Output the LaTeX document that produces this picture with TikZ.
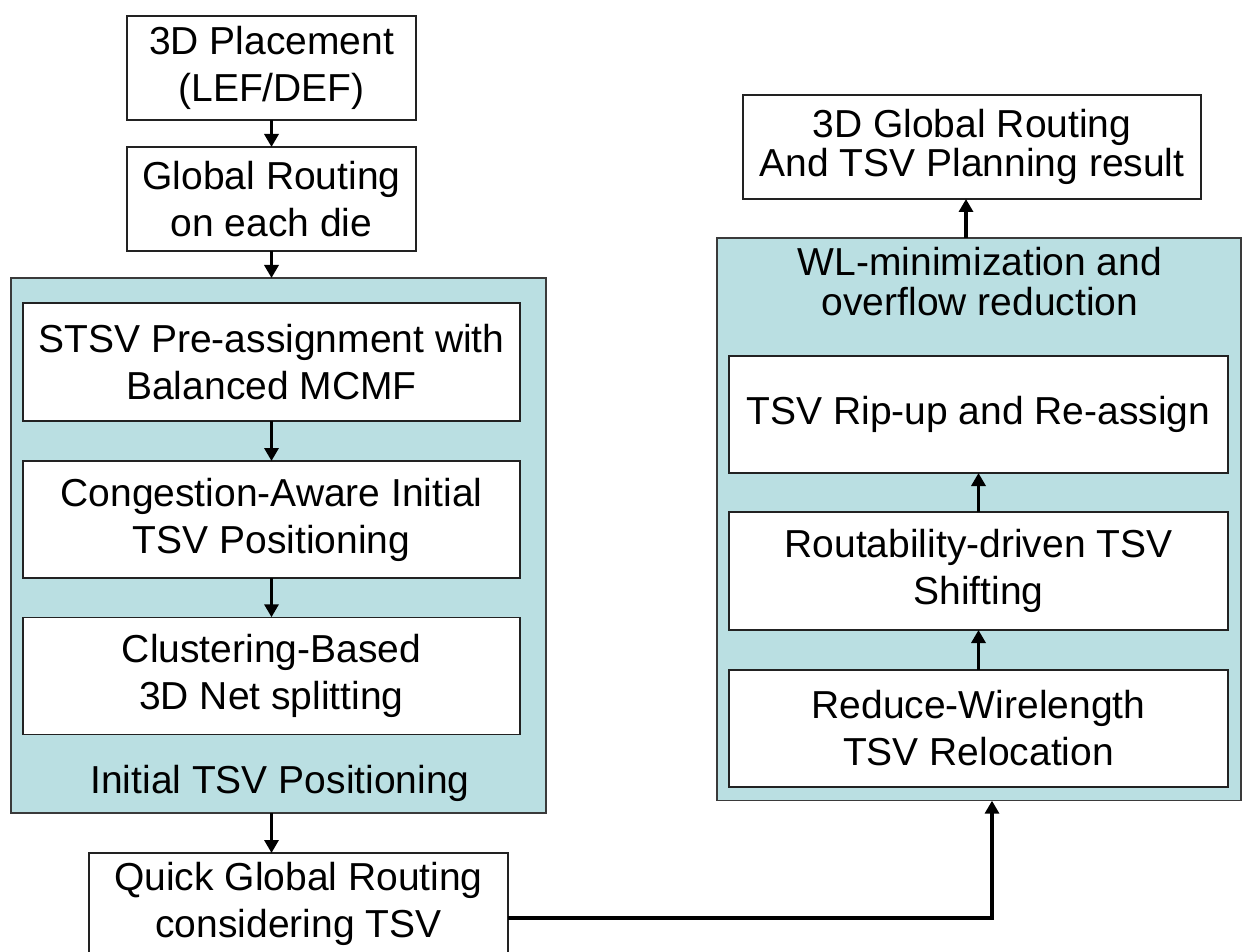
\documentclass[tikz,border=0pt]{standalone}
\usepackage{fontspec}
\setmainfont{Liberation Sans}
\usetikzlibrary{arrows.meta}
\definecolor{panelfill}{HTML}{BADFE2}
\definecolor{panelline}{HTML}{3A3A3A}
\definecolor{boxline}{HTML}{222222}
\tikzset{
  txt/.style={font=\fontsize{39}{47}\selectfont, align=center, text=black},
  stepbox/.style={txt, draw=boxline, line width=1.3pt, fill=white, inner sep=0pt, outer sep=0pt},
  panel/.style={draw=panelline, line width=1.5pt, fill=panelfill, inner sep=0pt, outer sep=0pt},
  flow/.style={line width=3.6pt, -{Triangle[length=13pt,width=14pt]}},
  bigflow/.style={line width=4.5pt, -{Triangle[length=13pt,width=14pt]}}
}
\begin{document}
\begin{tikzpicture}[x=1pt,y=-1pt]
\useasboundingbox (0,0) rectangle (1243,952);
\fill[white] (0,0) rectangle (1243,952);

% left column: preparation steps
\node[stepbox, minimum width=289pt, minimum height=104pt] (place) at (271.5,68) {3D Placement\\(LEF/DEF)};
\node[stepbox, minimum width=289pt, minimum height=104pt] (gr) at (271.5,199) {Global Routing\\on each die};

% Initial TSV positioning panel
\node[panel, minimum width=535pt, minimum height=535pt] (leftc) at (278.35,545.5) {};
\node[stepbox, minimum width=497pt, minimum height=118pt] (sa) at (271.5,362) {STSV Pre-assignment with\\Balanced MCMF};
\node[stepbox, minimum width=497pt, minimum height=117pt] (cip) at (271.5,519.5) {Congestion-Aware Initial\\TSV Positioning};
\node[stepbox, minimum width=497pt, minimum height=117.5pt] (cbs) at (271.5,676) {Clustering-Based\\3D Net splitting};
\node[txt, anchor=base] (initlabel) at (280,793) {Initial TSV Positioning};

% quick routing step (runs past the lower edge)
\node[stepbox, minimum width=419pt, minimum height=102pt] (quick) at (298.5,904) {Quick Global Routing\\considering TSV};

% right column: refinement panel and result
\node[stepbox, minimum width=458pt, minimum height=104pt, font=\fontsize{39}{39}\selectfont] (result) at (972,147) {3D Global Routing\\And TSV Planning result};
\node[panel, minimum width=524pt, minimum height=562.7pt] (rightc) at (979,519.35) {};
\node[txt, font=\fontsize{39}{40}\selectfont] (wllabel) at (980,282) {WL-minimization and\\overflow reduction};
\node[stepbox, minimum width=499pt, minimum height=117pt] (rip) at (978.5,414.5) {TSV Rip-up and Re-assign};
\node[stepbox, minimum width=499pt, minimum height=118pt] (rout) at (978.5,571) {Routability-driven TSV\\Shifting};
\node[stepbox, minimum width=499pt, minimum height=117pt] (red) at (978.5,728.5) {Reduce-Wirelength\\TSV Relocation};

% connectors
\draw[flow] (place.south) -- (gr.north);
\draw[flow] (gr.south) -- (leftc.north -| gr.south);
\draw[flow] (sa.south) -- (cip.north);
\draw[flow] (cip.south) -- (cbs.north);
\draw[flow] (leftc.south -| sa.south) -- (quick.north -| sa.south);

\coordinate (bend) at (992,918);
\draw[bigflow] (quick.east |- bend) -- (bend) -- (rightc.south -| bend);

\draw[flow] (red.north) -- (rout.south);
\draw[flow] (rout.north) -- (rip.south);
\coordinate (upx) at (966,0);
\draw[flow] (rightc.north -| upx) -- (result.south -| upx);
\end{tikzpicture}
\end{document}
